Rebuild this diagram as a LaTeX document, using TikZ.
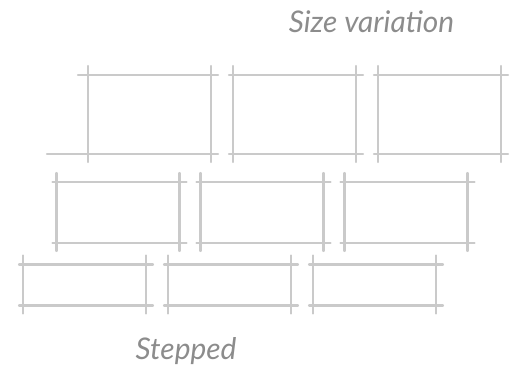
\documentclass[tikz,border=0pt]{standalone}
\usepackage{fontspec}
\setmainfont{Lato}
\usepackage{tikz}
\usetikzlibrary{positioning}
\definecolor{lapiz}{HTML}{CACACA}
\definecolor{grafito}{HTML}{8C8C8C}
\tikzset{
  marco/.style={draw=none,minimum width=24.6mm,inner sep=0pt,outer sep=0pt},
  trazo/.style={draw=lapiz,line width=1.3pt,line cap=round},
  nota/.style={font=\itshape\fontsize{17}{19}\selectfont,color=grafito,inner sep=0pt},
}
% pencil box: four lines running past the corners
\newcommand{\boceto}[1]{%
  \draw[trazo] ([xshift=-0.8mm]#1.north west) -- ([xshift=1.4mm]#1.north east);
  \draw[trazo] ([xshift=-0.8mm]#1.south west) -- ([xshift=1.4mm]#1.south east);
  \draw[trazo] ([yshift=1.8mm]#1.north west) -- ([yshift=-1.6mm]#1.south west);
  \draw[trazo] ([yshift=1.8mm]#1.north east) -- ([yshift=-1.6mm]#1.south east);
}
\begin{document}
\begin{tikzpicture}[node distance=4.4mm,
  alto/.style={marco,minimum height=15.8mm},
  medio/.style={marco,minimum height=12.2mm},
  bajo/.style={marco,minimum height=8.2mm}]
  \useasboundingbox (0,0) rectangle (102mm,-74.8mm);
  \node[nota] (titulo) at (74.3mm,-4.4mm) {Size variation};
  \node[alto] (b1) at (29.9mm,-22.9mm) {};
  \node[alto,right=of b1] (b2) {};
  \node[alto,right=of b2] (b3) {};
  \node[medio] (b4) at (23.6mm,-42.5mm) {};
  \node[medio,right=4.2mm of b4] (b5) {};
  \node[medio,right=4.2mm of b5] (b6) {};
  \node[bajo] (b7) at (16.9mm,-57mm) {};
  \node[bajo,right=of b7] (b8) {};
  \node[bajo,right=of b8] (b9) {};
  \node[nota] (pie) at (37.2mm,-70.2mm) {Stepped};
  \foreach \b in {b1,b2,b3,b4,b5,b6,b7,b8,b9}{\boceto{\b}}
  \draw[trazo] (b1.south west) -- ([xshift=-8.2mm]b1.south west);
  \draw[trazo] (b1.north west) -- ([xshift=-2mm]b1.north west);
\end{tikzpicture}
\end{document}
